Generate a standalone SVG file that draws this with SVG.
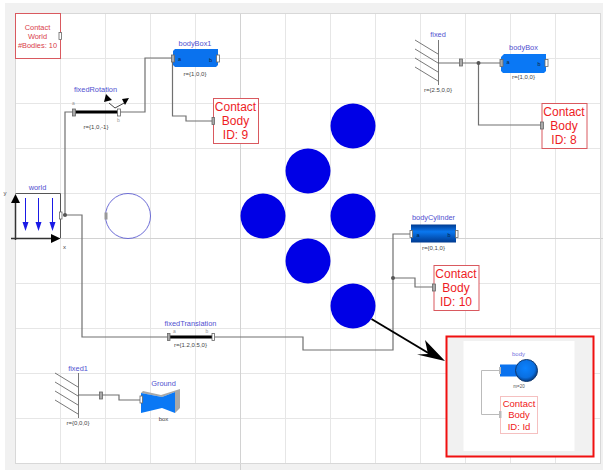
<svg xmlns="http://www.w3.org/2000/svg" width="603" height="470" viewBox="0 0 603 470">
<style>
.g{stroke:#e6e6e6;stroke-width:1;fill:none}
.w{fill:none;stroke:#707070;stroke-width:1.2}
.t{font-family:"Liberation Sans",Arial,sans-serif;text-anchor:middle}
.n{font-size:7.4px;fill:#5050d0}
.p{font-size:6px;fill:#444}
.c{font-size:12px;fill:#ee1c25}
.box{fill:#fff;stroke:#d9595f;stroke-width:1}
.po{fill:#fff;stroke:#666;stroke-width:.8}
.pg{fill:#aaa;stroke:#666;stroke-width:.8}
.h{stroke:#555;stroke-width:.8;fill:none}
</style>
<defs>
<linearGradient id="cyl" x1="0" y1="0" x2="0" y2="1"><stop offset="0" stop-color="#003a90"/><stop offset=".4" stop-color="#0a78f0"/><stop offset="1" stop-color="#003a90"/></linearGradient>
<radialGradient id="sph" cx=".45" cy=".4" r=".6"><stop offset="0" stop-color="#0a82ff"/><stop offset=".7" stop-color="#0a6fe0"/><stop offset="1" stop-color="#053a80"/></radialGradient>
</defs>
<rect width="603" height="470" fill="#fff"/>
<path d="M5 3H603V470H5Z M15.500 13.500V463.500H600.500V13.500Z" fill="#f1f1f1" fill-rule="evenodd"/>
<g id="grid">
<path class="g" d="M60.500 13.500V463.500M105.500 13.500V463.500M150.500 13.500V463.500M195.500 13.500V463.500M285.500 13.500V463.500M330.500 13.500V463.500M375.500 13.500V463.500M420.500 13.500V463.500M465.500 13.500V463.500M510.500 13.500V463.500M555.500 13.500V463.500"/>
<path class="g" d="M15.500 58.500H600.500M15.500 103.500H600.500M15.500 148.500H600.500M15.500 193.500H600.500M15.500 283.500H600.500M15.500 328.500H600.500M15.500 373.500H600.500M15.500 418.500H600.500"/>
<path d="M240.500 13.500V470M15.500 238.500H603" stroke="#d2d2d2" fill="none"/>
<rect x="15.500" y="13.500" width="585" height="450" fill="none" stroke="#d8d8d8"/>
</g>
<g id="connectors">
<path class="w" d="M63 215H65V112H74"/>
<path class="w" d="M119 112H145V58H173"/>
<path class="w" d="M172.500 58V116H186V121H213"/>
<path class="w" d="M65 215H82V337H169"/>
<path class="w" d="M213 337H303V350H393V234H411"/>
<path class="w" d="M393 278H415V287H433"/>
<path class="w" d="M438 63H501"/>
<path class="w" d="M478.500 63V125H541"/>
<path class="w" d="M78 395H119V400H141"/>
<circle cx="65" cy="215" r="2" fill="#555"/>
<circle cx="478.500" cy="63" r="2" fill="#555"/>
<circle cx="393" cy="278" r="2" fill="#555"/>
<path d="M371.500 319L430 354" stroke="#000" stroke-width="2" fill="none"/>
<path d="M445 361L425 340L428 354L417 354.500Z" fill="#000"/>
</g>
<g id="contactWorld">
<rect class="box" x="15.500" y="13.500" width="45" height="45"/>
<text class="t" font-size="7.400" fill="#d9404a" x="37.500" y="29.500">Contact</text>
<text class="t" font-size="7.400" fill="#d9404a" x="37.500" y="38.500">World</text>
<text class="t" font-size="7.400" fill="#d9404a" x="37.500" y="47.500">#Bodies: 10</text>
<rect class="po" x="59" y="32.500" width="2.500" height="7"/>
</g>
<g id="world">
<text class="t n" x="37.500" y="190">world</text>
<path d="M15.500 193.500H60.500V238" fill="none" stroke="#555"/>
<path d="M15.500 240V200" stroke="#333" stroke-width="1.500"/>
<path d="M11 238.500H52" stroke="#333" stroke-width="1.500"/>
<path d="M15.500 194L20 203H11Z" fill="#000"/>
<path d="M60.500 238.500L51 243V234Z" fill="#000"/>
<path d="M25.500 198V226M38.500 198V226M52.500 198V226" stroke="#1a1ae6"/>
<path d="M25.500 231L22.500 222H28.500ZM38.500 231L35.500 222H41.500ZM52.500 231L49.500 222H55.500Z" fill="#1a1ae6"/>
<text class="t" font-size="6" fill="#444" x="5" y="195">y</text>
<text class="t" font-size="6" fill="#444" x="64.500" y="249">x</text>
<rect class="po" x="59.500" y="212" width="2.500" height="7"/>
</g>
<g id="cylinderOutline">
<circle cx="128" cy="216" r="22.500" fill="#fff" stroke="#4a4acb" stroke-width=".8"/>
<rect x="104.500" y="212.500" width="3" height="7" fill="#999"/>
</g>
<g id="fixedRotation">
<text class="t n" x="95.500" y="92">fixedRotation</text>
<path d="M74 112H119" stroke="#000" stroke-width="3"/>
<path d="M109 103L115 108L126 102" stroke="#444" fill="none"/>
<path d="M106 94L112 100L104 102Z M129 98L122 99L125 105Z" fill="#000"/>
<rect class="pg" x="72.500" y="109" width="3" height="7"/>
<rect class="po" x="117.500" y="109" width="3" height="7"/>
<text class="t" font-size="5" fill="#999" x="73.500" y="105">a</text>
<text class="t" font-size="5" fill="#999" x="118.500" y="122">b</text>
<text class="t p" x="96" y="129">r={1,0,-1}</text>
</g>
<g id="bodyBox1">
<text class="t n" x="195" y="45.500">bodyBox1</text>
<path d="M175 49H218V65L216 67H175L173 65V51Z" fill="#0a72ee"/>
<rect class="pg" x="171.500" y="55" width="3" height="7"/>
<rect class="po" x="216.500" y="55" width="3" height="7"/>
<text class="t" font-size="5.500" fill="#123" x="179.500" y="60.500">a</text>
<text class="t" font-size="5.500" fill="#123" x="210.500" y="62">b</text>
<text class="t p" x="195" y="75.500">r={1,0,0}</text>
</g>
<g id="contact9">
<rect class="box" x="213.500" y="98.500" width="45" height="45"/>
<text class="t c" x="235.500" y="111">Contact</text>
<text class="t c" x="235.500" y="125">Body</text>
<text class="t c" x="235.500" y="139">ID: 9</text>
<rect class="pg" x="212" y="117.500" width="2.500" height="7"/>
</g>
<g id="fixed">
<text class="t n" x="438" y="37">fixed</text>
<path class="h" d="M438.500 40V85M415 40L438 54M415 49L438 63M415 58L438 72M415 67L438 81"/>
<rect class="pg" x="459.500" y="59" width="3" height="7"/>
<text class="t p" x="438" y="92">r={2.5,0,0}</text>
</g>
<g id="bodyBox">
<text class="t n" x="523.500" y="50">bodyBox</text>
<path d="M504 54H546V71L544 73H503L501 71V57Z" fill="#0a78f5"/>
<rect class="pg" x="500" y="59.500" width="3" height="7"/>
<rect class="po" x="545" y="59.500" width="3" height="7"/>
<text class="t" font-size="5.500" fill="#123" x="508" y="64">a</text>
<text class="t" font-size="5.500" fill="#123" x="539" y="66">b</text>
<text class="t p" x="523.500" y="79">r={1,0,0}</text>
</g>
<g id="contact8">
<rect class="box" x="542" y="103.500" width="45" height="45"/>
<text class="t c" x="564" y="116">Contact</text>
<text class="t c" x="564" y="130">Body</text>
<text class="t c" x="564" y="144">ID: 8</text>
<rect class="pg" x="540.500" y="122" width="3" height="7"/>
</g>
<g id="bodies" fill="#0000e6">
<circle cx="353" cy="126" r="22.500"/>
<circle cx="308" cy="171" r="22.500"/>
<circle cx="263" cy="216" r="22.500"/>
<circle cx="353" cy="216" r="22.500"/>
<circle cx="308" cy="261" r="22.500"/>
<circle cx="353" cy="306" r="22.500"/>
</g>
<g id="bodyCylinder">
<text class="t n" x="433.500" y="220">bodyCylinder</text>
<rect x="411" y="224.500" width="45" height="18" fill="url(#cyl)"/>
<rect class="po" x="410" y="230.500" width="2.500" height="7"/>
<rect class="po" x="455.500" y="230.500" width="2.500" height="7"/>
<text class="t" font-size="5.500" fill="#024" x="418" y="236.500">a</text>
<text class="t" font-size="5.500" fill="#024" x="449" y="236.500">b</text>
<text class="t p" x="433.500" y="250">r={0,1,0}</text>
</g>
<g id="contact10">
<rect class="box" x="434" y="265.500" width="45" height="45"/>
<text class="t c" x="456" y="278">Contact</text>
<text class="t c" x="456" y="292">Body</text>
<text class="t c" x="456" y="306">ID: 10</text>
<rect class="pg" x="432.500" y="284" width="3" height="7"/>
</g>
<g id="fixedTranslation">
<text class="t n" x="190.500" y="325.500">fixedTranslation</text>
<path d="M169 337H213" stroke="#000" stroke-width="3"/>
<rect class="pg" x="167.500" y="333.500" width="2.500" height="7"/>
<rect class="po" x="212" y="333.500" width="2.500" height="7"/>
<text class="t" font-size="5" fill="#999" x="174.500" y="333">a</text>
<text class="t" font-size="5" fill="#999" x="207" y="333">b</text>
<text class="t p" x="190.500" y="346.500">r={1.2,0.5,0}</text>
</g>
<g id="fixed1">
<text class="t n" x="78" y="370.500">fixed1</text>
<path class="h" d="M78.500 373V418M55 373L78 387M55 382L78 396M55 391L78 405M55 400L78 414"/>
<rect class="pg" x="99.500" y="392" width="3" height="7"/>
<text class="t p" x="78" y="425">r={0,0,0}</text>
</g>
<g id="Ground">
<text class="t n" x="163.500" y="385.500">Ground</text>
<path d="M143 391L161 395L180 389V408L175 413V392L162 397L141 393Z" fill="#a8a8a8"/>
<path d="M141 393L162 397L175 392V413L162 408L141 413Z" fill="#0a78f5"/>
<rect class="po" x="140" y="396" width="2.500" height="7"/>
<text class="t p" x="163.500" y="420.500">box</text>
</g>
<g id="inset">
<rect x="446.500" y="336.500" width="147" height="120" fill="#f1f1f1" stroke="#f01010" stroke-width="2"/>
<rect x="463.500" y="341" width="111" height="110" fill="#fff"/>
<path d="M500 370.500H481.500V414.500H500" fill="none" stroke="#bbb"/>
<text class="t" font-size="6" fill="#7070e0" x="518.500" y="356">body</text>
<rect x="500" y="364.500" width="20" height="12" fill="#0a72ee"/>
<circle cx="526.500" cy="370.500" r="11" fill="url(#sph)" stroke="#123a70"/>
<rect x="499" y="367" width="2" height="7" fill="#bbb"/>
<text class="t" font-size="4.500" fill="#555" x="519" y="388">m=20</text>
<rect x="500.500" y="396.500" width="37" height="37" fill="#fff" stroke="#f5c0c0"/>
<text class="t" font-size="9.500" fill="#f02020" x="519" y="407">Contact</text>
<text class="t" font-size="9.500" fill="#f02020" x="519" y="418">Body</text>
<text class="t" font-size="9.500" fill="#f02020" x="519" y="429.500">ID: Id</text>
<rect x="499" y="411" width="2.500" height="7" fill="#bbb"/>
</g>
</svg>
